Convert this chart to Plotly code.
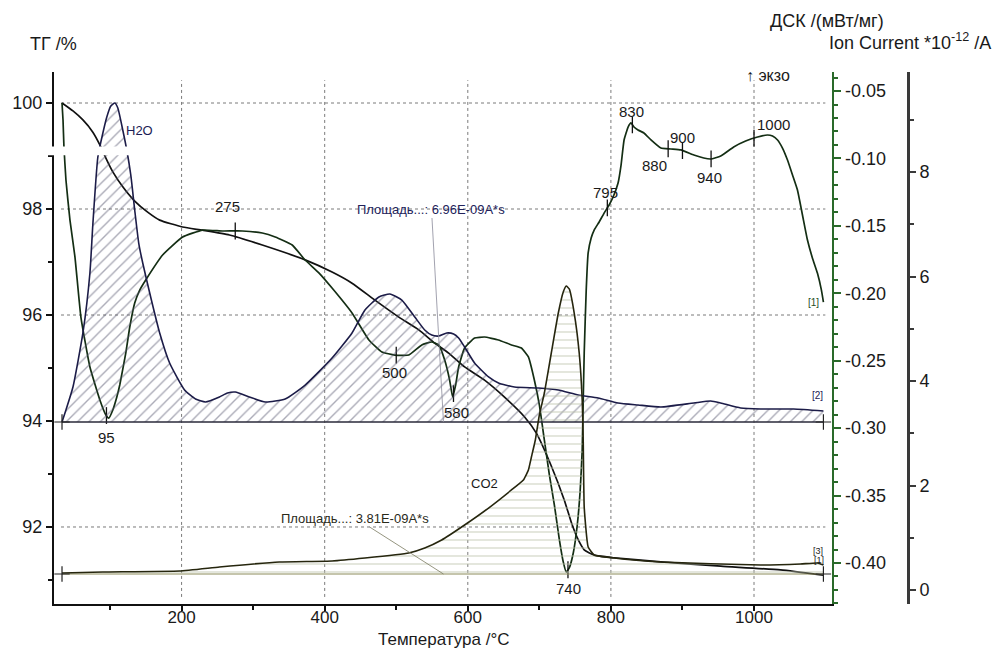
import numpy as np
import plotly.graph_objects as go

# ---- Thermogravimetry (mass, %) ----
tg_temp = [32.9, 48.2, 62.1, 76.0, 85.8, 94.2, 103.9, 117.8, 134.5, 152.6, 169.4, 201.4, 229.2,
           266.9, 312.8, 372.7, 410.3, 438.2, 470.2, 503.6, 531.5, 553.8, 573.3, 595.5, 623.4,
           651.3, 679.1, 695.8, 716.7, 734.8, 744.6, 754.3, 762.7, 776.6, 804.5, 869.9, 953.5,
           1037.1, 1097.0]
tg_mass = [100.0, 99.85, 99.68, 99.45, 99.21, 98.96, 98.70, 98.42, 98.15, 97.94, 97.79, 97.66,
           97.60, 97.51, 97.32, 97.04, 96.81, 96.60, 96.28, 95.96, 95.72, 95.47, 95.28, 95.02,
           94.77, 94.45, 94.08, 93.77, 93.15, 92.51, 92.09, 91.76, 91.57, 91.47, 91.42, 91.34,
           91.26, 91.19, 91.09]

# ---- DSC (mW/mg) ----
dsc_temp = [32.9, 34.3, 35.6, 38.4, 44.0, 51.0, 59.3, 71.9, 85.8, 94.2, 98.3, 103.9, 109.5,
            113.6, 122.0, 127.6, 134.5, 141.5, 149.9, 173.5, 201.4, 229.2, 257.1, 285.0, 312.8,
            330.9, 354.6, 372.7, 392.2, 410.3, 438.2, 461.8, 479.9, 498.1, 517.5, 535.7, 549.6,
            559.3, 567.7, 574.6, 578.8, 583.0, 587.2, 595.5, 609.5, 623.4, 642.9, 661.0, 674.9,
            684.7, 693.0, 700.0, 707.0, 714.0, 721.0, 728.0, 733.4, 737.6, 741.8, 747.4, 753.0,
            757.1, 759.9, 761.3, 762.7, 765.5, 768.2, 772.4, 776.6, 783.6, 790.5, 797.5, 803.1,
            810.0, 814.2, 818.4, 824.0, 828.1, 832.3, 837.9, 846.2, 856.0, 869.9, 883.8, 897.8,
            915.9, 929.8, 939.6, 953.5, 971.6, 988.3, 1005.0, 1018.9, 1025.9, 1032.9, 1039.8,
            1046.8, 1053.8, 1060.7, 1069.1, 1074.7, 1081.6, 1088.6, 1094.2, 1097.0]
dsc_val = [-0.0589, -0.0715, -0.0915, -0.1160, -0.1457, -0.1731, -0.2176, -0.2547, -0.2791,
           -0.2902, -0.2925, -0.2865, -0.2769, -0.2680, -0.2443, -0.2250, -0.2072, -0.1976,
           -0.1901, -0.1716, -0.1583, -0.1531, -0.1538, -0.1538, -0.1553, -0.1583, -0.1642,
           -0.1753, -0.1850, -0.1961, -0.2146, -0.2346, -0.2435, -0.2458, -0.2458, -0.2383,
           -0.2361, -0.2383, -0.2495, -0.2643, -0.2769, -0.2680, -0.2547, -0.2406, -0.2332,
           -0.2324, -0.2346, -0.2383, -0.2406, -0.2472, -0.2643, -0.2828, -0.3088, -0.3347,
           -0.3570, -0.3829, -0.3992, -0.4067, -0.4037, -0.3926, -0.3718, -0.3459, -0.3162,
           -0.2791, -0.2443, -0.1976, -0.1701, -0.1590, -0.1531, -0.1471, -0.1405, -0.1345,
           -0.1286, -0.1182, -0.1049, -0.0863, -0.0767, -0.0737, -0.0767, -0.0789, -0.0811,
           -0.0863, -0.0923, -0.0930, -0.0937, -0.0975, -0.0997, -0.1004, -0.0982, -0.0915,
           -0.0871, -0.0841, -0.0826, -0.0834, -0.0863, -0.0923, -0.1012, -0.1123, -0.1234,
           -0.1457, -0.1605, -0.1738, -0.1850, -0.1976, -0.2065]

# ---- Mass spectrometry: ion current (1e-12 A) ----
h2o_temp = [32.9, 38.4, 48.2, 62.1, 71.9, 76.0, 83.0, 90.0, 95.5, 101.1, 106.7, 110.9, 117.8,
            123.4, 129.0, 134.5, 140.1, 145.7, 156.8, 169.4, 183.3, 204.2, 219.5, 233.4, 252.9,
            264.1, 275.2, 294.7, 317.0, 344.8, 372.7, 410.3, 438.2, 456.3, 475.8, 491.1, 507.8,
            525.9, 539.8, 549.6, 559.3, 570.5, 580.2, 587.2, 595.5, 609.5, 629.0, 642.9, 665.2,
            698.6, 726.5, 754.3, 782.2, 810.0, 837.9, 869.9, 915.9, 939.6, 953.5, 981.3, 1009.2,
            1055.2, 1097.0]
h2o_ion = [3.215, 3.445, 3.885, 4.919, 6.067, 7.000, 8.287, 8.746, 9.053, 9.263, 9.321, 9.225,
           8.804, 8.421, 7.943, 7.273, 6.641, 6.258, 5.608, 4.919, 4.344, 3.828, 3.656, 3.598,
           3.694, 3.770, 3.789, 3.694, 3.598, 3.656, 3.923, 4.440, 4.919, 5.359, 5.608, 5.665,
           5.550, 5.225, 4.976, 4.880, 4.861, 4.919, 4.900, 4.823, 4.651, 4.344, 4.077, 3.962,
           3.885, 3.866, 3.828, 3.732, 3.675, 3.579, 3.541, 3.502, 3.579, 3.617, 3.579, 3.483,
           3.464, 3.464, 3.426]
h2o_base = 3.215

co2_temp = [32.9, 90.0, 197.2, 252.9, 336.5, 410.3, 456.3, 517.5, 539.8, 563.5, 595.5, 629.0,
            661.0, 677.7, 684.7, 688.9, 694.4, 700.0, 707.0, 716.7, 726.5, 733.4, 737.6, 741.8,
            748.7, 755.7, 759.9, 761.3, 762.7, 768.2, 776.6, 804.5, 869.9, 1009.2, 1064.9,
            1088.6, 1097.0]
co2_ion = [0.325, 0.344, 0.364, 0.440, 0.536, 0.555, 0.612, 0.708, 0.804, 0.957, 1.244, 1.569,
           1.914, 2.105, 2.297, 2.545, 2.871, 3.349, 3.770, 4.536, 5.301, 5.703, 5.818, 5.761,
           5.301, 4.536, 3.636, 2.871, 1.589, 0.823, 0.670, 0.612, 0.536, 0.478, 0.498, 0.517,
           0.478]
co2_base = 0.306

# Characteristic DSC temperatures (°C)
peak_temps = [95, 275, 500, 580, 740, 795, 830, 880, 900, 940, 1000]

# Axis ticks
x_ticks = [200, 400, 600, 800, 1000]
tg_ticks = [92, 94, 96, 98, 100]
dsc_ticks = [-0.40, -0.35, -0.30, -0.25, -0.20, -0.15, -0.10, -0.05]
ion_ticks = [0, 2, 4, 6, 8]

FONT = "Liberation Sans, Arial, sans-serif"
INK = "#1a1a1a"
DSC_GREEN = "#2a6a2a"

fig = go.Figure()

# H2O ion current with hatched integrated area
fig.add_trace(go.Scatter(x=[h2o_temp[0], h2o_temp[-1]], y=[h2o_base, h2o_base], yaxis="y3",
                         mode="lines", line=dict(color="#2a2a3a", width=1.5), showlegend=False))
fig.add_trace(go.Scatter(x=h2o_temp, y=h2o_ion, yaxis="y3", mode="lines",
                         line=dict(color="#1c1c48", width=1.6, shape="spline", smoothing=0.5),
                         fill="tonexty", fillcolor="rgba(255,255,255,0)",
                         fillpattern=dict(shape="/", fgcolor="#55556e", bgcolor="rgba(255,255,255,0)",
                                          size=8, solidity=0.17),
                         showlegend=False))

# CO2 ion current with horizontally hatched area
fig.add_trace(go.Scatter(x=[co2_temp[0], co2_temp[-1]], y=[co2_base, co2_base], yaxis="y3",
                         mode="lines", line=dict(color="#8c8c5a", width=1.2), showlegend=False))
fig.add_trace(go.Scatter(x=co2_temp, y=co2_ion, yaxis="y3", mode="lines",
                         line=dict(color="#26260e", width=1.6, shape="spline", smoothing=0.4),
                         fill="tonexty", fillcolor="rgba(255,255,255,0)",
                         fillpattern=dict(shape="-", fgcolor="#bcc2aa", bgcolor="rgba(255,255,255,0)",
                                          size=8, solidity=0.2),
                         showlegend=False))

# Baseline end markers
fig.add_trace(go.Scatter(x=[h2o_temp[0], h2o_temp[-1], co2_temp[0], co2_temp[-1]],
                         y=[h2o_base, h2o_base, co2_base, co2_base], yaxis="y3", mode="markers",
                         marker=dict(symbol="cross-thin", size=11, line=dict(color="#222", width=1.2)),
                         showlegend=False))

# TG curve
fig.add_trace(go.Scatter(x=tg_temp, y=tg_mass, yaxis="y", mode="lines",
                         line=dict(color="#111111", width=1.7, shape="spline", smoothing=0.5),
                         showlegend=False))

# DSC curve
fig.add_trace(go.Scatter(x=dsc_temp, y=dsc_val, yaxis="y2", mode="lines",
                         line=dict(color="#142e14", width=1.7, shape="spline", smoothing=0.4),
                         showlegend=False))

# Tick marks at the characteristic temperatures on the DSC curve
peak_dsc = np.interp(peak_temps, dsc_temp, dsc_val)
fig.add_trace(go.Scatter(x=peak_temps, y=peak_dsc, yaxis="y2", mode="markers",
                         marker=dict(symbol="line-ns", size=12, line=dict(color="#111", width=1.3)),
                         showlegend=False))

# Label offsets (px) for the peak temperatures
label_shift = {95: (0, -22), 275: (-8, 24), 500: (-2, -17), 580: (3, -19), 740: (1, -19),
               795: (-2, 15), 830: (-1, 13), 880: (-14, -17), 900: (0, 13), 940: (-2, -19),
               1000: (19, 14)}

annotations = []
for t, v in zip(peak_temps, peak_dsc):
    dx, dy = label_shift[t]
    annotations.append(dict(x=t, y=float(v), xref="x", yref="y2", text=str(t), showarrow=False,
                            xshift=dx, yshift=dy, font=dict(family=FONT, size=15, color=INK)))

# Area labels with leader lines
annotations.append(dict(x=566, y=h2o_base, xref="x", yref="y3", ax=-12, ay=-213,
                        text="Площадь...: 6.96E-09A*s", showarrow=True, arrowhead=0,
                        arrowwidth=0.8, arrowcolor="#8a8a9a",
                        font=dict(family=FONT, size=13, color="#22225a")))
annotations.append(dict(x=566, y=co2_base, xref="x", yref="y3", ax=-88, ay=-56,
                        text="Площадь...: 3.81E-09A*s", showarrow=True, arrowhead=0,
                        arrowwidth=0.8, arrowcolor="#7a7a60",
                        font=dict(family=FONT, size=13, color="#2a2a1a")))

# Gas labels
annotations.append(dict(x=141.5, y=8.80, xref="x", yref="y3", text="H2O", showarrow=False,
                        font=dict(family=FONT, size=13, color="#1c1c55")))
annotations.append(dict(x=623.4, y=2.03, xref="x", yref="y3", text="CO2", showarrow=False,
                        font=dict(family=FONT, size=13, color=INK)))

# Curve index labels
annotations.append(dict(x=1083, y=-0.2065, xref="x", yref="y2", text="[1]", showarrow=False,
                        font=dict(family=FONT, size=10, color="#1f4f1f")))
annotations.append(dict(x=1088.6, y=3.73, xref="x", yref="y3", text="[2]", showarrow=False,
                        font=dict(family=FONT, size=10, color="#1c1c55")))
annotations.append(dict(x=1090, y=0.75, xref="x", yref="y3", text="[3]", showarrow=False,
                        font=dict(family=FONT, size=9, color=INK)))
annotations.append(dict(x=1091, y=0.58, xref="x", yref="y3", text="[1]", showarrow=False,
                        font=dict(family=FONT, size=9, color=INK)))

# Axis titles and the exo marker (paper coordinates)
def paper_label(x, y, text, size=18, xanchor="center"):
    return dict(x=x, y=y, xref="paper", yref="paper", xanchor=xanchor, yanchor="middle",
                text=text, showarrow=False, font=dict(family=FONT, size=size, color=INK))

annotations.append(paper_label(-0.0011, 1.0526, "ТГ /%"))
annotations.append(paper_label(0.8778, 1.0959, "ДСК /(мВт/мг)"))
annotations.append(paper_label(1.0656, 1.0564, "Ion Current *10<sup>-12</sup> /A", xanchor="right"))
annotations.append(paper_label(0.4423, -0.0660, "Температура /°C", size=17))
annotations.append(paper_label(0.81, 0.9925, "↑ экзо", size=16))

# Dotted grid, inset from the frame
shapes = []
for t in x_ticks:
    shapes.append(dict(type="line", xref="x", yref="y", x0=t, x1=t, y0=90.68, y1=100.43,
                       line=dict(color="#7a7a7a", width=1, dash="dot"), layer="below"))
for m in [92, 96, 98, 100]:
    shapes.append(dict(type="line", xref="x", yref="y", x0=31.5, x1=1099.7, y0=m, y1=m,
                       line=dict(color="#7a7a7a", width=1, dash="dot"), layer="below"))
# Axis break strip
shapes.append(dict(type="rect", xref="paper", yref="y", x0=-0.02, x1=0.1, y0=99.015, y1=99.179,
                   fillcolor="white", line=dict(width=0), layer="above"))

tickfont = dict(family=FONT, size=18, color=INK)

fig.update_layout(
    width=995, height=648,
    margin=dict(l=51, r=60, t=72, b=44),
    paper_bgcolor="white", plot_bgcolor="white",
    showlegend=False,
    xaxis=dict(domain=[0, 0.8835], range=[21.7, 1109.5], tickvals=x_ticks,
               ticks="outside", ticklen=5, tickwidth=1.5, tickcolor="#111",
               ticklabelstandoff=-8,
               showline=True, linecolor="#111", linewidth=2, showgrid=False, zeroline=False,
               minor=dict(tickvals=[100, 300, 500, 700, 900], ticks="outside", ticklen=4,
                          tickcolor="#111", showgrid=False),
               tickfont=dict(family=FONT, size=17, color=INK), anchor="y"),
    yaxis=dict(range=[90.547, 100.585], tickvals=tg_ticks, ticks="outside", ticklen=6,
               tickwidth=1.5, tickcolor="#111", showline=True, linecolor="#111", linewidth=2,
               showgrid=False, zeroline=False,
               minor=dict(tickvals=[91, 93, 95, 97, 99], ticks="outside", ticklen=4,
                          tickcolor="#111", showgrid=False),
               tickfont=tickfont, anchor="x"),
    yaxis2=dict(range=[-0.4304, -0.0359], overlaying="y", side="right", anchor="x",
                tickvals=dsc_ticks, ticktext=["%.2f" % v for v in dsc_ticks],
                ticks="outside", ticklen=7, tickwidth=1.5, tickcolor=DSC_GREEN,
                showline=True, linecolor=DSC_GREEN, linewidth=2, showgrid=False, zeroline=False,
                minor=dict(tickvals=[round(-0.43 + 0.01 * i, 2) for i in range(40)],
                           ticks="outside", ticklen=4, tickcolor=DSC_GREEN, showgrid=False),
                tickfont=tickfont),
    yaxis3=dict(range=[-0.268, 9.914], overlaying="y", side="right", anchor="free",
                position=0.9695, tickvals=ion_ticks, ticks="outside", ticklen=6, tickwidth=1.5,
                tickcolor="#3a3a3a", showline=True, linecolor="#3a3a3a", linewidth=2.5,
                showgrid=False, zeroline=False,
                minor=dict(tickvals=[1, 3, 5, 7, 9], ticks="outside", ticklen=4,
                           tickcolor="#3a3a3a", showgrid=False),
                tickfont=tickfont),
    annotations=annotations,
    shapes=shapes,
)

fig.write_html("out.html")
